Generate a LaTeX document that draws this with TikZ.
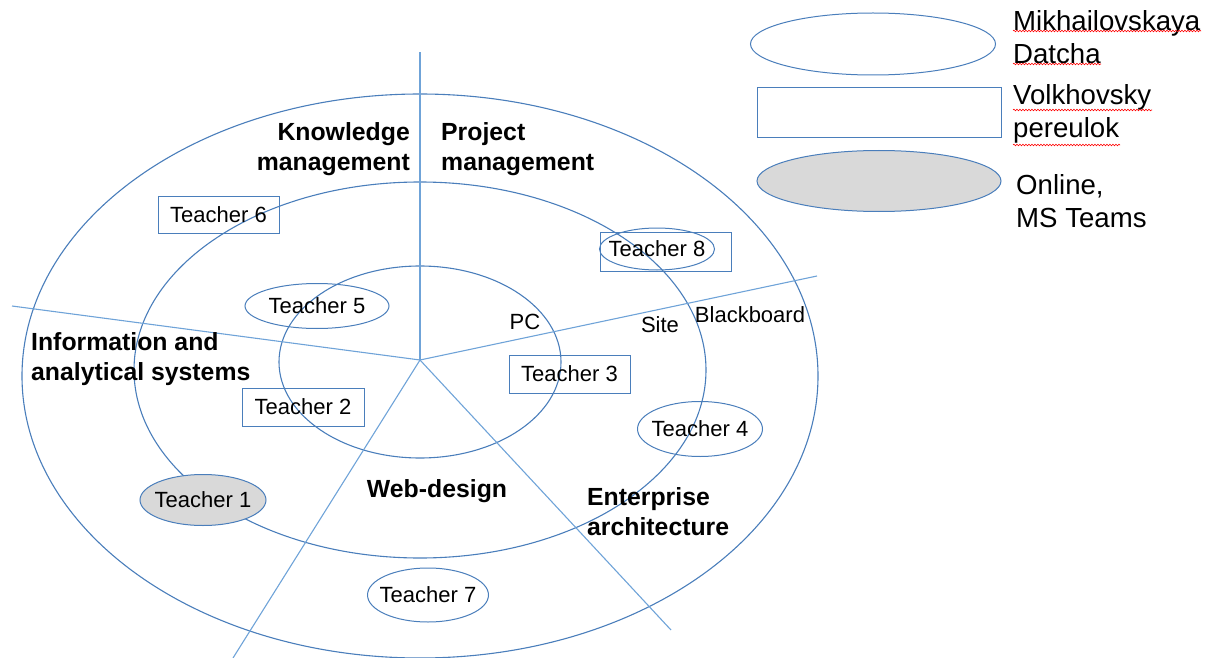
\documentclass[tikz,border=0pt]{standalone}
\usepackage{fontspec}
\setmainfont{Liberation Sans}
\usetikzlibrary{shapes.geometric,decorations.pathmorphing}
\definecolor{ringblue}{HTML}{4A7EBB}
\definecolor{spokeblue}{HTML}{6FA3D8}
\definecolor{onlinegray}{HTML}{D9D9D9}
\tikzset{
    ring/.style={draw=ringblue, line width=1.1pt},
    spoke/.style={draw=spokeblue, line width=1.1pt},
    datcha/.style={ellipse, draw=ringblue, line width=1pt, inner xsep=-18pt, inner ysep=0pt, font=\fontsize{22}{26}\selectfont},
    pereulok/.style={rectangle, draw=ringblue, line width=1pt, inner sep=0pt, font=\fontsize{22}{26}\selectfont},
    online/.style={datcha, fill=onlinegray},
    area/.style={inner sep=0pt, font=\fontsize{24.8}{30}\selectfont\bfseries},
    tool/.style={inner sep=0pt, font=\fontsize{22}{26}\selectfont},
    legend/.style={inner sep=0pt, anchor=west, align=left, font=\fontsize{27.6}{33}\selectfont},
    spell/.style={draw=red, line width=0.6pt, decorate, decoration={snake, amplitude=0.8pt, segment length=3pt}}
}
\begin{document}
\begin{tikzpicture}[x=1pt, y=-1pt]
    \useasboundingbox (0,0) rectangle (1216,658);
    % Rings
    \draw[ring] (420,376) ellipse [x radius=398, y radius=282];
    \draw[ring] (420,370) ellipse [x radius=286, y radius=188];
    \draw[ring] (420,362) ellipse [x radius=141, y radius=96];
    % Spokes
    \coordinate (hub) at (420,360);
    \foreach \name/\pos in {top/{420,52}, left/{12,306}, right/{817,276}, sw/{233,658}, se/{671,630}} {
        \coordinate (end-\name) at (\pos);
        \draw[spoke] (hub) -- (end-\name);
    }
    % Areas
    \node[area, anchor=east, align=right] (km) at (410,149) {Knowledge\\management};
    \node[area, anchor=west, align=left] (pm) at (441,149) {Project\\management};
    \node[area, anchor=west, align=left] (ias) at (31,359) {Information and\\analytical systems};
    \node[area] (wd) at (437,491) {Web-design};
    \node[area, anchor=west, align=left] (ea) at (587,512) {Enterprise\\architecture};
    % Tools
    \node[tool] (pc) at (525,322) {PC};
    \node[tool] (site) at (660,325) {Site};
    \node[tool] (bb) at (750,315) {Blackboard};
    % Teachers
    \node[online, minimum width=126, minimum height=51] (t1) at (203,500) {Teacher 1};
    \node[pereulok, minimum width=122, minimum height=38] (t2) at (303,407) {Teacher 2};
    \node[pereulok, minimum width=121, minimum height=38] (t3) at (569.5,374) {Teacher 3};
    \node[datcha, minimum width=125, minimum height=55] (t4) at (700,429) {Teacher 4};
    \node[datcha, minimum width=144, minimum height=45] (t5) at (317,306) {Teacher 5};
    \node[pereulok, minimum width=121, minimum height=37] (t6) at (218.5,214.5) {Teacher 6};
    \node[datcha, minimum width=121, minimum height=54] (t7) at (428,595) {Teacher 7};
    \node[pereulok, minimum width=131, minimum height=39] (t8box) at (665.5,251.5) {};
    \node[datcha, minimum width=115, minimum height=42] (t8) at (657,249) {Teacher 8};
    % Legend
    \node[datcha, minimum width=245, minimum height=62] (leg1) at (873,44) {};
    \node[pereulok, minimum width=244, minimum height=50] (leg2) at (879,113) {};
    \node[online, minimum width=244, minimum height=61] (leg3) at (879,181) {};
    \node[legend] (leg1-lbl) at (1013,37) {Mikhailovskaya\\Datcha};
    \node[legend] (leg2-lbl) at (1013,114) {Volkhovsky\\pereulok};
    \node[legend] (leg3-lbl) at (1016,201) {Online,\\MS Teams};
    \draw[spell] (1013,31) -- (1201,31);
    \draw[spell] (1013,64) -- (1101,64);
    \draw[spell] (1013,110) -- (1152,110);
    \draw[spell] (1013,145) -- (1120,145);
\end{tikzpicture}
\end{document}
